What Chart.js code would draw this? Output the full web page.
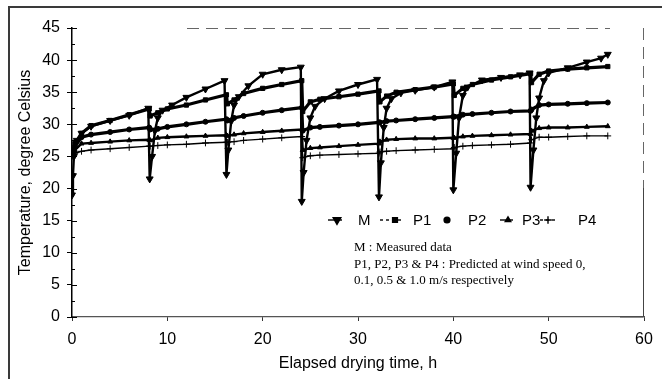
<!DOCTYPE html>
<html>
<head>
<meta charset="utf-8">
<script src="https://cdn.jsdelivr.net/npm/chart.js@4.4.1/dist/chart.umd.min.js"></script>
<style>
  html, body { margin: 0; padding: 0; background: #fff; }
  #wrap { position: relative; width: 662px; height: 379px; overflow: hidden; }
  #frame { position: absolute; left: 8px; top: 6px; width: 700px; height: 400px;
           border-left: 2px solid #3a3a3a; border-top: 2px solid #3a3a3a; }
  canvas { position: absolute; left: 0; top: 0; }
</style>
</head>
<body>
<div id="wrap"><div id="frame"></div><canvas id="dryingChart" width="662" height="379"></canvas></div>
<script>
"use strict";
// ========== DATA ========== //
// measured grain temperature (M), each batch reload shows as a sharp drop
const mTime = [0, 0.1, 0.2, 0.5, 1, 2, 4, 6, 8.0,
  8.15, 8.4, 8.7, 9.0, 9.5, 10.5, 12, 14, 16.0,
  16.2, 16.4, 16.7, 17.0, 17.5, 18.5, 20, 22, 24.0,
  24.1, 24.3, 24.6, 25.0, 25.5, 26.5, 28, 30, 32.0,
  32.2, 32.4, 32.7, 33.0, 33.5, 34.5, 36, 38, 39.9,
  40.0, 40.3, 40.6, 41.0, 41.5, 43, 45, 47, 48.0,
  48.1, 48.4, 48.7, 49.0, 49.5, 50, 52, 54, 55.5, 56.2];
const mTemp = [19.0, 22.0, 25.0, 27.5, 28.6, 29.7, 30.6, 31.4, 32.5,
  21.5, 25.0, 29.0, 31.0, 32.2, 33.0, 34.2, 35.5, 36.8,
  22.2, 26.0, 30.5, 33.0, 34.3, 36.0, 37.8, 38.5, 38.9,
  18.0, 22.5, 27.5, 31.0, 32.8, 34.0, 35.2, 36.2, 37.0,
  18.7, 24.0, 29.5, 32.5, 34.0, 34.9, 35.3, 35.8, 36.6,
  19.8, 25.5, 31.0, 34.5, 35.8, 36.9, 37.3, 37.7, 38.0,
  20.2, 26.0, 31.0, 34.1, 36.8, 38.0, 38.8, 39.7, 40.3, 40.9];

// predicted temperatures, shared time points
const pTime = [0, 0.3, 1, 2, 4, 6, 8.1,
  8.2, 9, 10, 12, 14, 16.2,
  16.3, 17, 18, 20, 22, 24.1,
  24.2, 25, 26, 28, 30, 32.2,
  32.3, 33, 34, 36, 38, 40.0,
  40.1, 41, 42, 44, 46, 48.1,
  48.2, 49, 50, 52, 54, 56.2];
const p1Temp = [25.5, 27.0, 28.6, 29.8, 30.6, 31.5, 32.4,
  31.3, 31.8, 32.4, 33.0, 33.8, 34.6,
  33.2, 33.8, 34.8, 35.6, 36.2, 36.8,
  32.0, 33.5, 33.9, 34.3, 34.7, 35.2,
  33.5, 34.4, 35.0, 35.4, 35.8, 36.3,
  34.5, 35.6, 36.2, 36.9, 37.4, 37.9,
  36.5, 37.8, 38.3, 38.6, 38.8, 39.0];
const p2Temp = [25.3, 26.5, 28.0, 28.4, 28.8, 29.2, 29.5,
  29.2, 29.3, 29.6, 30.0, 30.4, 30.8,
  30.6, 31.0, 31.3, 31.8, 32.2, 32.6,
  29.0, 29.5, 29.6, 29.8, 30.0, 30.3,
  30.3, 30.5, 30.6, 30.8, 31.0, 31.2,
  31.2, 31.5, 31.6, 31.8, 32.0, 32.1,
  32.3, 33.0, 33.1, 33.2, 33.3, 33.4];
const p3Temp = [25.2, 26.0, 27.0, 27.1, 27.3, 27.5, 27.6,
  27.5, 27.9, 28.0, 28.1, 28.2, 28.3,
  28.2, 28.4, 28.6, 28.8, 29.0, 29.2,
  26.0, 26.3, 26.4, 26.6, 26.8, 27.0,
  27.3, 27.6, 27.7, 27.8, 27.8, 27.9,
  27.9, 28.1, 28.2, 28.3, 28.4, 28.5,
  29.0, 29.4, 29.5, 29.5, 29.6, 29.7];
const p4Temp = [25.0, 25.5, 25.8, 26.0, 26.2, 26.4, 26.6,
  26.6, 26.7, 26.8, 26.9, 27.1, 27.2,
  27.2, 27.3, 27.5, 27.7, 27.9, 28.1,
  24.8, 25.1, 25.2, 25.3, 25.4, 25.5,
  25.7, 25.8, 25.9, 26.0, 26.1, 26.2,
  26.4, 26.6, 26.7, 26.8, 26.9, 27.1,
  27.6, 28.0, 28.0, 28.1, 28.2, 28.2];

const seriesLabels = ['M', 'P1', 'P2', 'P3', 'P4'];
const noteLines = ['M : Measured data',
  'P1, P2, P3 & P4 : Predicted at wind speed 0,',
  '0.1, 0.5 & 1.0 m/s respectively'];

function toPoints(xs, ys) {
  return xs.map((x, i) => ({ x: x, y: ys[i] }));
}

// marker style for each series (legend uses the same)
const markerStyles = [
  { pointStyle: 'triangle', rotation: 180, radius: 4, lineWidth: 2.4 },
  { pointStyle: 'rect', rotation: 0, radius: 3, lineWidth: 3.2 },
  { pointStyle: 'circle', rotation: 0, radius: 2.5, lineWidth: 3.2 },
  { pointStyle: 'triangle', rotation: 0, radius: 2.8, lineWidth: 2.4 },
  { pointStyle: 'cross', rotation: 0, radius: 3.4, lineWidth: 1.4 }
];

// ========== PLUGINS ========== //
// inner tick marks on y axis + broken top/right frame of the scan
const axisDecor = {
  id: 'axisDecor',
  afterDraw(chart) {
    const { ctx, chartArea: a, scales } = chart;
    ctx.save();
    ctx.strokeStyle = '#000';
    ctx.lineWidth = 1;
    for (let v = 0; v <= 45; v += 2.5) {
      const py = Math.round(scales.y.getPixelForValue(v)) + 0.5;
      const len = v % 5 === 0 ? 5 : 3;
      ctx.beginPath();
      ctx.moveTo(a.left, py);
      ctx.lineTo(a.left + len, py);
      ctx.stroke();
    }
    ctx.strokeStyle = '#666';
    ctx.setLineDash([12, 7]);
    ctx.beginPath();
    ctx.moveTo(a.left + 115, a.top + 0.5);
    ctx.lineTo(a.right - 34, a.top + 0.5);
    ctx.stroke();
    ctx.beginPath();
    ctx.moveTo(a.right - 0.5, a.top);
    ctx.lineTo(a.right - 0.5, a.top + 160);
    ctx.stroke();
    ctx.setLineDash([]);
    ctx.strokeStyle = '#444';
    ctx.beginPath();
    ctx.moveTo(a.right - 0.5, a.top + 160);
    ctx.lineTo(a.right - 0.5, a.bottom);
    ctx.lineTo(a.right - 24, a.bottom);
    ctx.stroke();
    ctx.restore();
  }
};

// legend row and explanation inside the plot area
const legendItems = [
  { line: [256, 270], marker: 265, text: 286 },
  { line: [308, 331], marker: 323, text: 341 },
  { line: [372, 378], marker: 375, text: 396 },
  { line: [428, 441], marker: 436, text: 450 },
  { line: [468, 485], marker: 476, text: 506 }
];

const insideLegend = {
  id: 'insideLegend',
  afterDraw(chart) {
    const { ctx, chartArea: a } = chart;
    const rowY = a.top + 192;
    ctx.save();
    ctx.fillStyle = '#000';
    ctx.strokeStyle = '#000';
    legendItems.forEach((item, i) => {
      const st = markerStyles[i];
      ctx.lineWidth = 1.4;
      ctx.setLineDash(i === 1 || i === 4 ? [3, 3] : []);
      ctx.beginPath();
      ctx.moveTo(a.left + item.line[0], rowY);
      ctx.lineTo(a.left + item.line[1], rowY);
      ctx.stroke();
      ctx.setLineDash([]);
      Chart.helpers.drawPoint(ctx, {
        pointStyle: st.pointStyle, rotation: st.rotation,
        radius: st.radius + 0.4, borderWidth: 1
      }, a.left + item.marker, rowY);
      ctx.font = '15px "Liberation Sans", Arial, sans-serif';
      ctx.textBaseline = 'middle';
      ctx.textAlign = 'left';
      ctx.fillText(seriesLabels[i], a.left + item.text, rowY + 1);
    });
    ctx.font = '13px "Liberation Serif", "Times New Roman", serif';
    noteLines.forEach((line, i) => {
      ctx.fillText(line, a.left + 282, a.top + 220 + i * 16.5);
    });
    ctx.restore();
  }
};

// ========== CHART ========== //
const allTimes = [mTime, pTime, pTime, pTime, pTime];
const allTemps = [mTemp, p1Temp, p2Temp, p3Temp, p4Temp];

const datasets = seriesLabels.map((label, i) => {
  const st = markerStyles[i];
  return {
    label: label,
    data: toPoints(allTimes[i], allTemps[i]),
    borderColor: '#000',
    backgroundColor: '#000',
    borderWidth: st.lineWidth,
    pointStyle: st.pointStyle,
    rotation: st.rotation,
    pointRadius: st.radius,
    pointBorderWidth: 1,
    pointBackgroundColor: '#000',
    pointBorderColor: '#000',
    tension: 0,
    fill: false
  };
});

const tickFont = { family: '"Liberation Sans", Arial, sans-serif', size: 16 };

new Chart(document.getElementById('dryingChart'), {
  type: 'line',
  data: { datasets: datasets },
  options: {
    responsive: false,
    animation: false,
    layout: { padding: { top: 28, right: 18, left: 0, bottom: 0 } },
    plugins: { legend: { display: false }, tooltip: { enabled: false } },
    scales: {
      x: {
        type: 'linear',
        min: 0,
        max: 60,
        ticks: { stepSize: 10, color: '#000', font: tickFont, padding: 9, maxRotation: 0 },
        grid: { drawOnChartArea: false, color: '#333', tickLength: 4 },
        border: { color: '#555', width: 1.2, dash: [10, 14] },
        title: { display: true, text: 'Elapsed drying time, h', color: '#000',
                 font: tickFont, padding: { top: 0, bottom: 6 } },
        afterFit(scale) { scale.height = 62; }
      },
      y: {
        min: 0,
        max: 45,
        ticks: { stepSize: 5, color: '#000', font: tickFont, padding: 7 },
        grid: { drawOnChartArea: false, color: '#000', tickLength: 5 },
        border: { color: '#000', width: 1.5 },
        title: { display: true, text: 'Temperature, degree Celsius', color: '#000',
                 font: tickFont, padding: { top: 16, bottom: 0 } },
        afterFit(scale) { scale.width = 72; }
      }
    }
  },
  plugins: [axisDecor, insideLegend]
});
</script>
</body>
</html>
